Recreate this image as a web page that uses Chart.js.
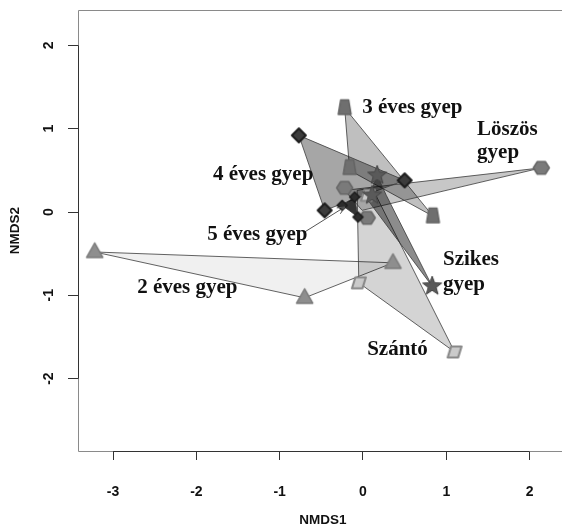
<!DOCTYPE html>
<html>
<head>
<meta charset="utf-8">
<script src="https://cdn.jsdelivr.net/npm/chart.js@4.4.1/dist/chart.umd.min.js"></script>
<style>
  html, body { margin: 0; padding: 0; background: #fff; overflow: hidden; }
</style>
</head>
<body>
<canvas id="chart" width="568" height="529"></canvas>
<script>
// NMDS site scores, one pair of arrays per group
const ev2X = [-3.22, -0.70, 0.36];
const ev2Y = [-0.48, -1.03, -0.61];
const ev3X = [-0.22, -0.16, 0.84];
const ev3Y = [1.25, 0.53, -0.05];
const ev4X = [-0.77, 0.50, -0.46];
const ev4Y = [0.92, 0.38, 0.02];
const ev5X = [-0.25, -0.10, -0.06];
const ev5Y = [0.08, 0.18, -0.06];
const loszX = [2.14, -0.22, 0.05];
const loszY = [0.53, 0.29, -0.07];
const szikX = [0.83, 0.17, 0.11];
const szikY = [-0.89, 0.44, 0.20];
const szantoX = [-0.05, 1.10, 0.06];
const szantoY = [-0.85, -1.68, 0.20];

// hull outlines (ordihull)
const hull2X = [-3.22, -0.70, 0.36];
const hull2Y = [-0.48, -1.03, -0.61];
const hull3X = [-0.22, 0.84, -0.16];
const hull3Y = [1.25, -0.05, 0.50];
const hull4X = [-0.77, 0.50, -0.46];
const hull4Y = [0.92, 0.38, 0.02];
const hull5X = [-0.25, -0.10, -0.06];
const hull5Y = [0.08, 0.18, -0.06];
const hullLoszX = [-0.22, 2.14, -0.01];
const hullLoszY = [0.26, 0.53, 0.02];
const hullSzikX = [0.17, 0.28, 0.83, 0.06];
const hullSzikY = [0.44, 0.20, -0.89, 0.14];
const hullSzantoX = [-0.07, 0.11, 1.10, -0.05];
const hullSzantoY = [0.26, 0.29, -1.68, -0.85];

// group labels (left x, baseline y)
const labelText = ['3 éves gyep', 'Löszös', 'gyep', '4 éves gyep', '5 éves gyep', '2 éves gyep', 'Szikes', 'gyep', 'Szántó'];
const labelX = [-0.01, 1.37, 1.37, -1.80, -1.87, -2.71, 0.96, 0.96, 0.05];
const labelY = [1.19, 0.92, 0.65, 0.38, -0.34, -0.97, -0.64, -0.94, -1.72];

// arrow from "5 éves gyep" to its hull
const arrowX = [-0.70, -0.22];
const arrowY = [-0.24, 0.06];

const xTicks = [-3, -2, -1, 0, 1, 2];
const yTicks = [-2, -1, 0, 1, 2];

function pairs(xs, ys, close) {
  const out = xs.map((x, i) => ({ x: x, y: ys[i] }));
  if (close) out.push({ x: xs[0], y: ys[0] });
  return out;
}

function marker(kind, r, fill, stroke, lw) {
  const size = Math.ceil(r * 2 + lw * 2 + 2);
  const c = document.createElement('canvas');
  c.width = c.height = size;
  const g = c.getContext('2d');
  const m = size / 2;
  g.beginPath();
  if (kind === 'tri') {
    g.moveTo(m, m - r);
    g.lineTo(m + r * 0.9, m + r * 0.6);
    g.lineTo(m - r * 0.9, m + r * 0.6);
  } else if (kind === 'hex') {
    for (let k = 0; k < 6; k++) {
      const a = k * Math.PI / 3;
      g.lineTo(m + r * Math.cos(a), m + r * 0.9 * Math.sin(a));
    }
  } else if (kind === 'diamond') {
    g.moveTo(m, m - r); g.lineTo(m + r, m); g.lineTo(m, m + r); g.lineTo(m - r, m);
  } else if (kind === 'trap') {
    g.moveTo(m - r * 0.5, m - r); g.lineTo(m + r * 0.5, m - r);
    g.lineTo(m + r * 0.8, m + r * 0.8); g.lineTo(m - r * 0.8, m + r * 0.8);
  } else if (kind === 'para') {
    g.moveTo(m - r * 0.5, m - r * 0.8); g.lineTo(m + r, m - r * 0.8);
    g.lineTo(m + r * 0.5, m + r * 0.8); g.lineTo(m - r, m + r * 0.8);
  } else if (kind === 'star') {
    for (let k = 0; k < 10; k++) {
      const a = -Math.PI / 2 + k * Math.PI / 5;
      const rr = k % 2 ? r * 0.42 : r;
      g.lineTo(m + rr * Math.cos(a), m + rr * Math.sin(a));
    }
  }
  g.closePath();
  g.fillStyle = fill;
  g.fill();
  g.lineJoin = 'round';
  g.lineWidth = lw;
  g.strokeStyle = stroke;
  g.stroke();
  return c;
}

function hull(xs, ys, fill, order) {
  return {
    type: 'line', data: pairs(xs, ys, true), order: order,
    fill: 'shape', backgroundColor: fill, borderColor: '#3a3a3a', borderWidth: 0.8,
    pointRadius: 0, tension: 0
  };
}

function sites(xs, ys, style) {
  return {
    type: 'scatter', data: pairs(xs, ys, false), order: 0,
    pointStyle: style, pointRadius: 8, pointHoverRadius: 8
  };
}

// box, R-style axis lines, labels and arrow
const decor = {
  id: 'decor',
  beforeDatasetsDraw(chart) {
    const { ctx, chartArea: a } = chart;
    ctx.save();
    ctx.strokeStyle = '#8a8a8a';
    ctx.lineWidth = 1;
    ctx.beginPath();
    ctx.moveTo(a.right + 0.5, a.top + 0.5);
    ctx.lineTo(a.left + 0.5, a.top + 0.5);
    ctx.lineTo(a.left + 0.5, a.bottom + 0.5);
    ctx.lineTo(a.right + 0.5, a.bottom + 0.5);
    ctx.stroke();
    const x = chart.scales.x, y = chart.scales.y;
    ctx.strokeStyle = '#333';
    ctx.beginPath();
    ctx.moveTo(x.getPixelForValue(xTicks[0]), a.bottom + 0.5);
    ctx.lineTo(x.getPixelForValue(xTicks[xTicks.length - 1]), a.bottom + 0.5);
    ctx.moveTo(a.left + 0.5, y.getPixelForValue(yTicks[0]));
    ctx.lineTo(a.left + 0.5, y.getPixelForValue(yTicks[yTicks.length - 1]));
    ctx.stroke();
    ctx.restore();
  },
  afterDatasetsDraw(chart) {
    const { ctx } = chart;
    const x = chart.scales.x, y = chart.scales.y;
    ctx.save();
    // arrow
    const x0 = x.getPixelForValue(arrowX[0]), y0 = y.getPixelForValue(arrowY[0]);
    const x1 = x.getPixelForValue(arrowX[1]), y1 = y.getPixelForValue(arrowY[1]);
    const ang = Math.atan2(y1 - y0, x1 - x0);
    ctx.strokeStyle = '#555';
    ctx.lineWidth = 1;
    ctx.beginPath();
    ctx.moveTo(x0, y0); ctx.lineTo(x1, y1);
    ctx.moveTo(x1 - 8 * Math.cos(ang - 0.45), y1 - 8 * Math.sin(ang - 0.45));
    ctx.lineTo(x1, y1);
    ctx.lineTo(x1 - 8 * Math.cos(ang + 0.45), y1 - 8 * Math.sin(ang + 0.45));
    ctx.stroke();
    // labels
    ctx.fillStyle = '#111';
    ctx.font = 'bold 21px "Liberation Serif", "Times New Roman", serif';
    ctx.textAlign = 'left';
    ctx.textBaseline = 'alphabetic';
    labelText.forEach((t, i) => {
      ctx.fillText(t, x.getPixelForValue(labelX[i]), y.getPixelForValue(labelY[i]));
    });
    ctx.restore();
  }
};

const tickFont = { family: '"Liberation Sans", Arial, sans-serif', size: 14, weight: 'bold' };
const titleFont = { family: '"Liberation Sans", Arial, sans-serif', size: 13.5, weight: 'bold' };

function noPad(s) {
  s.paddingTop = 0; s.paddingBottom = 0; s.paddingLeft = 0; s.paddingRight = 0;
}

new Chart(document.getElementById('chart'), {
  type: 'scatter',
  data: {
    datasets: [
      sites(ev2X, ev2Y, marker('tri', 9, '#8e8e8e', '#7a7a7a', 1.5)),
      sites(ev3X, ev3Y, marker('trap', 8, '#6f6f6f', '#646464', 1.5)),
      sites(ev4X, ev4Y, marker('diamond', 7, '#3c3c3c', '#1c1c1c', 2)),
      sites(ev5X, ev5Y, marker('diamond', 5, '#2c2c2c', '#1c1c1c', 1.5)),
      sites(loszX, loszY, marker('hex', 8, '#7a7a7a', '#666', 1.5)),
      sites(szikX, szikY, marker('star', 10, '#5a5a5a', '#444', 1)),
      sites(szantoX, szantoY, marker('para', 7, '#cacaca', '#888', 2)),
      hull(hull5X, hull5Y, 'rgba(0,0,0,0.8)', 1),
      hull(hullSzikX, hullSzikY, 'rgba(0,0,0,0.45)', 2),
      hull(hull4X, hull4Y, 'rgba(0,0,0,0.35)', 3),
      hull(hullLoszX, hullLoszY, 'rgba(0,0,0,0.22)', 4),
      hull(hull3X, hull3Y, 'rgba(0,0,0,0.25)', 5),
      hull(hullSzantoX, hullSzantoY, 'rgba(0,0,0,0.17)', 6),
      hull(hull2X, hull2Y, 'rgba(0,0,0,0.06)', 7)
    ]
  },
  options: {
    responsive: false,
    animation: false,
    layout: { autoPadding: false, padding: { top: 10, right: 0, left: 0, bottom: 0 } },
    plugins: { legend: { display: false }, tooltip: { enabled: false } },
    scales: {
      x: {
        type: 'linear', min: -3.421, max: 2.461,
        border: { display: false },
        grid: { drawOnChartArea: false, drawTicks: true, tickLength: 9, tickColor: '#333' },
        ticks: { stepSize: 1, includeBounds: false, padding: 24, color: '#111', font: tickFont },
        title: { display: true, text: 'NMDS1', color: '#111', font: titleFont, padding: { top: 0, bottom: 1 } },
        afterFit(s) { s.height = 78; noPad(s); }
      },
      y: {
        type: 'linear', min: -2.869, max: 2.425,
        border: { display: false },
        grid: { drawOnChartArea: false, drawTicks: true, tickLength: 10, tickColor: '#333' },
        ticks: { stepSize: 1, includeBounds: false, padding: 13, minRotation: 90, maxRotation: 90, crossAlign: 'center', color: '#111', font: tickFont },
        title: { display: true, text: 'NMDS2', color: '#111', font: titleFont, padding: { top: 7, bottom: 0 } },
        afterFit(s) { s.width = 78; noPad(s); }
      }
    }
  },
  plugins: [decor]
});
</script>
</body>
</html>
